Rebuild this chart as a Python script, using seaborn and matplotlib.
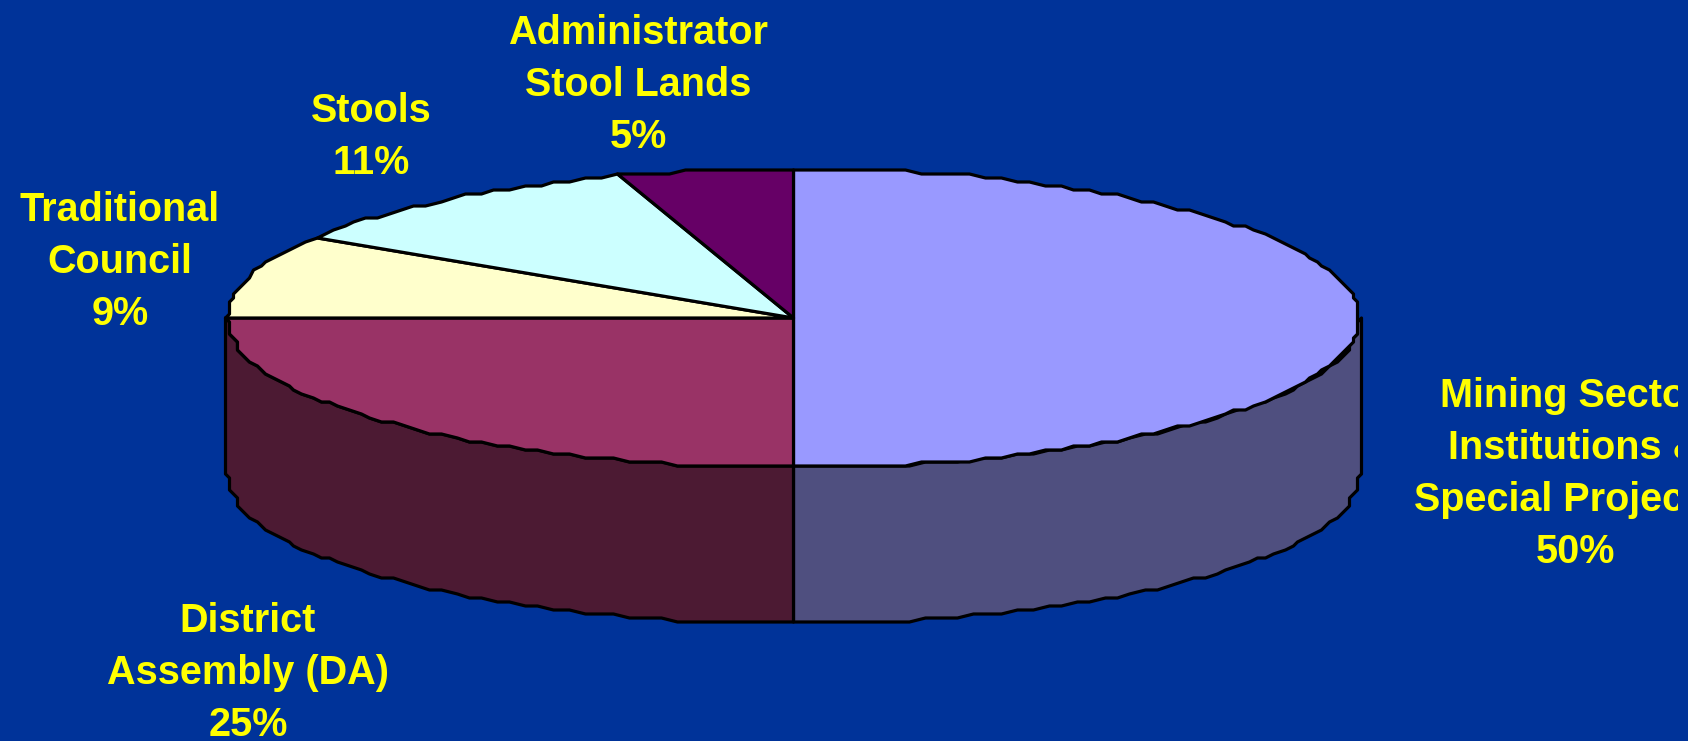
import numpy as np
import matplotlib
matplotlib.use("Agg")
import matplotlib.pyplot as plt
from matplotlib.transforms import Bbox
import seaborn as sns

categories = ["Mining Sector,\nInstitutions &\nSpecial Projects", "District\nAssembly (DA)",
              "Traditional\nCouncil", "Stools", "Administrator\nStool Lands"]
shares = [50, 25, 9, 11, 5]
top_colors = ["#9999FF", "#993366", "#FFFFCC", "#CCFFFF", "#660066"]
wall_colors = ["#4F4F7F", "#4C1A33"]
label_centers = [(1575, 396), (248, 621), (120, 210), (371, 111), (638, 33)]

BACKGROUND = "#003399"
TEXT_COLOR = "#FFFF00"
CX, CY, RX, RY, DEPTH = 793.5, 318, 566, 149.5, 156
LINE_STEP = 52
LINE_WIDTH = 2.3
GRID = 4.0  # coarse plotting grid that gives the rim its stepped look

sns.set_theme(style="white", rc={"figure.facecolor": BACKGROUND, "axes.facecolor": BACKGROUND})
plt.rcParams["font.family"] = ["Liberation Sans", "DejaVu Sans"]

fig = plt.figure(figsize=(16.88, 7.41), dpi=100)
ax = fig.add_axes([0, 0, 1, 1])
ax.set_xlim(0, 1688)
ax.set_ylim(741, 0)
ax.axis("off")


def rim(start, stop, drop=0.0):
    """Points of the pie rim between two clockwise fractions of a turn."""
    n = max(2, int(abs(stop - start) * 220))
    t = np.linspace(start, stop, n) * 2 * np.pi
    x = np.round(RX * np.sin(t) / GRID) * GRID + CX
    y = np.round(-RY * np.cos(t) / GRID) * GRID + CY + drop
    return x, y


# Side walls: only the front half of the pie is visible
edges = np.cumsum([0] + shares) / sum(shares)
wall_spans = [(0.25, 0.5), (0.5, 0.75)]
for (a, b), colour in zip(wall_spans, wall_colors):
    xt, yt = rim(a, b)
    xb, yb = rim(a, b, DEPTH)
    ax.fill(np.r_[xt, xb[::-1]], np.r_[yt, yb[::-1]], facecolor=colour,
            edgecolor="black", linewidth=LINE_WIDTH, joinstyle="round")

# Top face
for a, b, colour in zip(edges[:-1], edges[1:], top_colors):
    xs, ys = rim(a, b)
    ax.fill(np.r_[CX, xs], np.r_[CY, ys], facecolor=colour,
            edgecolor="black", linewidth=LINE_WIDTH, joinstyle="round")

# Labels; the block on the right runs off the slide area
clip = Bbox([[0, 0], [1678, 741]])
for name, share, (lx, ly) in zip(categories, shares, label_centers):
    for i, line in enumerate(name.split("\n") + [f"{share}%"]):
        nudge = -8 if line == "Special Projects" else 0
        t = ax.text(lx + nudge, ly + i * LINE_STEP, line, color=TEXT_COLOR, fontsize=28.5,
                    fontweight="bold", ha="center", va="center", clip_on=True)
        t.set_clip_box(clip)

fig.savefig("out.png", dpi=100, facecolor=BACKGROUND)
